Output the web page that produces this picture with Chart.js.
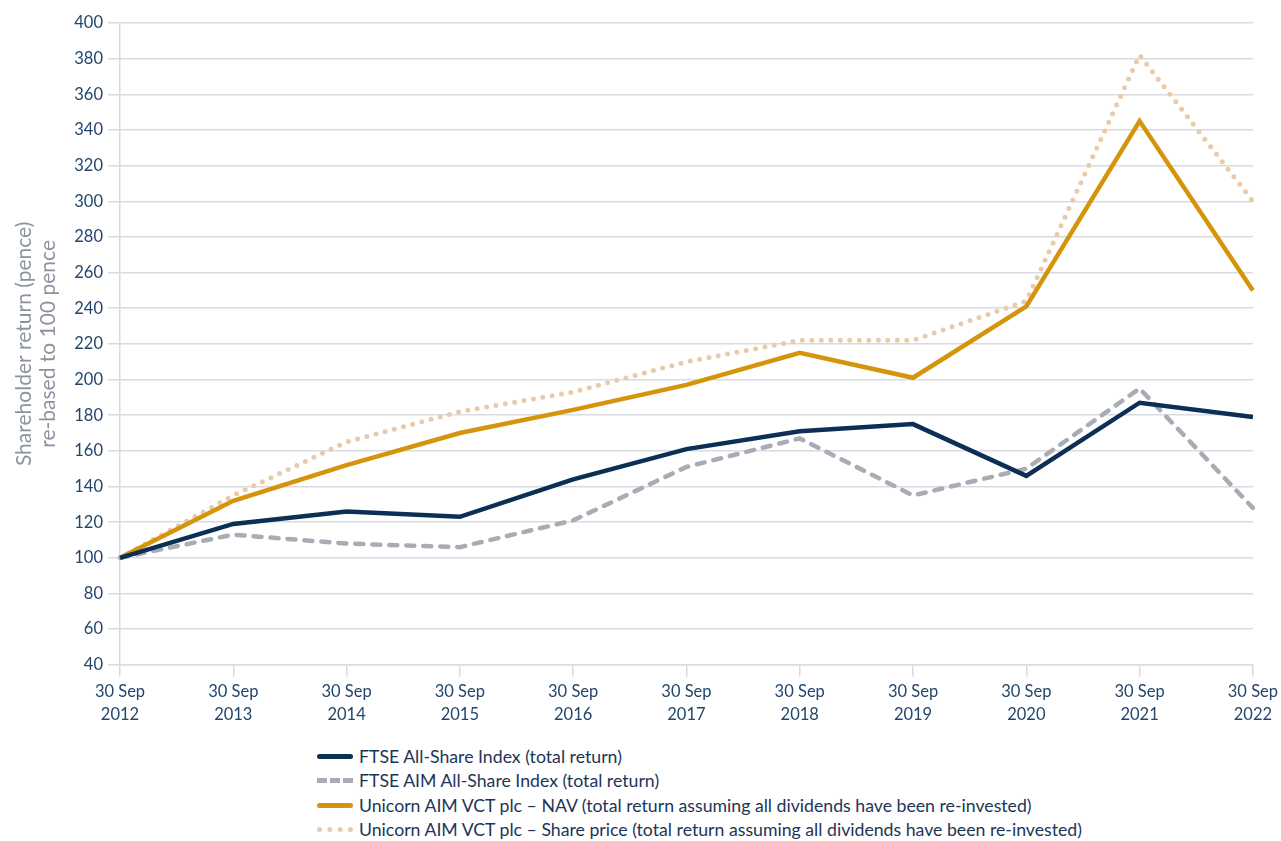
<!DOCTYPE html>
<html>
<head>
<meta charset="utf-8">
<script src="https://cdn.jsdelivr.net/npm/chart.js@4/dist/chart.umd.min.js"></script>
<style>
  html, body { margin: 0; padding: 0; background: #fff; }
  #wrap { position: relative; width: 1281px; height: 841px; }
  #chartBox { position: absolute; left: 0; top: 0; width: 1281px; height: 729px; }
  #legend { position: absolute; left: 317px; top: 744px; font-family: Lato, sans-serif; font-size: 17.7px; color: #1d3557; }
  .item { display: flex; align-items: center; height: 24.5px; }
  .swatch { width: 36px; height: 0; margin-right: 6px; }
</style>
</head>
<body>
<div id="wrap">
  <div id="chartBox"><canvas id="chart"></canvas></div>
  <div id="legend"></div>
</div>
<script>
const years = ['2012', '2013', '2014', '2015', '2016', '2017', '2018', '2019', '2020', '2021', '2022'];
const labels = years.map(y => ['30 Sep', y]);

const ftseAllShare = [100, 119, 126, 123, 144, 161, 171, 175, 146, 187, 179];
const ftseAim = [100, 113, 108, 106, 121, 151, 167, 135, 150, 195, 128];
const unicornNav = [100, 132, 152, 170, 183, 197, 215, 201, 241, 345, 250];
const unicornShare = [100, 135, 165, 182, 193, 210, 222, 222, 244, 382, 300];

const seriesNames = [
    'FTSE All-Share Index (total return)',
    'FTSE AIM All-Share Index (total return)',
    'Unicorn AIM VCT plc \u2013 NAV (total return assuming all dividends have been re-invested)',
    'Unicorn AIM VCT plc \u2013 Share price (total return assuming all dividends have been re-invested)'
];

const navy = '#0c2f55';
const grey = '#a8adb5';
const gold = '#d4940b';
const peach = '#e9cba9';
const gridColor = '#d9dbe1';
const tickColor = '#23466d';

const ctx = document.getElementById('chart');
const chart = new Chart(ctx, {
    type: 'line',
    data: {
        labels: labels,
        datasets: [
            { label: seriesNames[0], data: ftseAllShare, borderColor: navy, borderWidth: 4.5, order: 1, legendStyle: 'solid' },
            { label: seriesNames[1], data: ftseAim, borderColor: grey, borderWidth: 4.5, borderDash: [8, 9], borderCapStyle: 'round', order: 2, legendStyle: 'dashed' },
            { label: seriesNames[2], data: unicornNav, borderColor: gold, borderWidth: 4.5, order: 3, legendStyle: 'solid' },
            { label: seriesNames[3], data: unicornShare, borderColor: peach, borderWidth: 5, borderDash: [0, 9.5], borderCapStyle: 'round', order: 4, legendStyle: 'dotted' }
        ]
    },
    options: {
        responsive: true,
        maintainAspectRatio: false,
        animation: false,
        elements: { point: { radius: 0 }, line: { tension: 0, borderJoinStyle: 'miter' } },
        layout: { padding: { top: 23, right: 28, left: 0, bottom: 0 } },
        plugins: { legend: { display: false }, tooltip: { enabled: false } },
        scales: {
            x: {
                offset: false,
                grid: { drawOnChartArea: false, drawTicks: true, tickLength: 12, color: gridColor, lineWidth: 1.5 },
                border: { display: true, color: gridColor, width: 1.5 },
                ticks: { color: tickColor, font: { family: 'Lato, sans-serif', size: 16.5, lineHeight: 1.4 }, maxRotation: 0, padding: 3, autoSkip: false }
            },
            y: {
                min: 40,
                max: 400,
                afterFit: (scale) => { scale.width = 120; },
                grid: { color: gridColor, lineWidth: 1.5, tickLength: 12 },
                border: { display: true, color: gridColor, width: 1.5 },
                ticks: { stepSize: 20, color: tickColor, font: { family: 'Lato, sans-serif', size: 16.5 }, padding: 5 },
                title: {
                    display: true,
                    text: ['Shareholder return (pence)', 're-based to 100 pence'],
                    color: '#8b939f',
                    font: { family: 'Lato, sans-serif', size: 21, lineHeight: 1.15 },
                    padding: { top: 12, bottom: 0 }
                }
            }
        }
    }
});

// html legend, one row per series
const legend = document.getElementById('legend');
chart.data.datasets.forEach(ds => {
    const item = document.createElement('div');
    item.className = 'item';
    const sw = document.createElement('span');
    sw.className = 'swatch';
    sw.style.borderTop = '5px ' + ds.legendStyle + ' ' + ds.borderColor;
    if (ds.legendStyle === 'solid') sw.style.borderRadius = '3px';
    const txt = document.createElement('span');
    txt.textContent = ds.label;
    item.append(sw, txt);
    legend.append(item);
});
</script>
</body>
</html>
